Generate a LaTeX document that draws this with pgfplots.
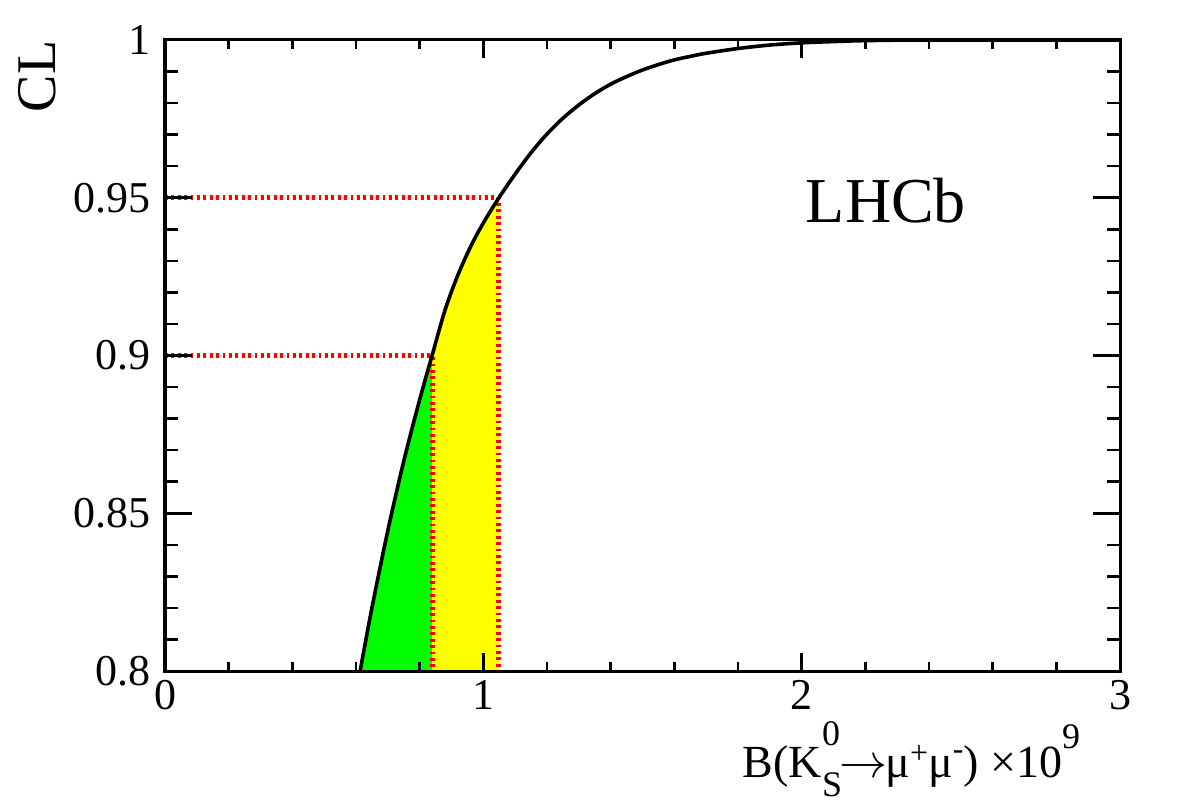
\documentclass[border=0pt]{standalone}
\usepackage{pgfplots}
\pgfplotsset{compat=1.18}
\usepackage{fontspec}
\setmainfont{Liberation Serif}
\begin{document}
\begin{tikzpicture}
\pgfplotsset{
  base/.style={
    name=ax,
    scale only axis, width=238.75pt, height=157.75pt,
    xmin=0, xmax=3, ymin=0.8, ymax=1,
    tick align=inside,
    axis line style={line width=0.75pt, black},
    tick style={line width=0.65pt, black},
    /pgf/number format/assume math mode=true,
    tick label style={font=\fontsize{11}{13}\selectfont},
  }
}
\begin{axis}[base, axis on top,
  xtick={0,1,2,3}, xticklabels={0,1,2,3},
  minor x tick num=4,
  major tick length=4.5pt, minor tick length=2.25pt,
  ytick=\empty,
  xticklabel style={yshift=1.2pt},
]
% green band (90% CL)
\addplot[draw=none, fill={rgb,255:red,0;green,255;blue,0}] coordinates {
(0.613,0.8000) (0.650,0.8200) (0.700,0.8445) (0.750,0.8665) (0.800,0.8860) (0.839,0.9000) (0.839,0.8000)
} -- cycle;
% yellow band (95% CL)
\addplot[draw=none, fill={rgb,255:red,255;green,255;blue,0}] coordinates {
(0.839,0.9000) (0.880,0.9145) (0.920,0.9255) (0.960,0.9345) (1.000,0.9420) (1.049,0.9500) (1.049,0.8000) (0.839,0.8000)
} -- cycle;
% red dotted guide lines
\addplot[red, line width=1.25pt, dash pattern=on 0.7pt off 0.9pt] coordinates {(0,0.95) (1.049,0.95) (1.049,0.8)};
\addplot[red, line width=1.25pt, dash pattern=on 0.7pt off 0.9pt] coordinates {(0,0.90) (0.839,0.90) (0.839,0.8)};
% CL curve
\addplot[black, line width=0.9pt, smooth, tension=0.5] coordinates {
(0.613,0.8000) (0.650,0.8200) (0.700,0.8445) (0.750,0.8665) (0.800,0.8860) (0.839,0.9000)
(0.880,0.9145) (0.920,0.9255) (0.960,0.9345) (1.000,0.9420) (1.049,0.9500) (1.100,0.9575)
(1.150,0.9643) (1.200,0.9702) (1.250,0.9752) (1.300,0.9794) (1.350,0.9830) (1.400,0.9860)
(1.450,0.9884) (1.500,0.9905) (1.550,0.9922) (1.600,0.9937) (1.650,0.9948) (1.700,0.9958)
(1.800,0.9973) (1.900,0.9984) (2.000,0.9991) (2.100,0.9995) (2.200,0.9998) (2.400,1.0000) (3.000,1.0000)
};
\node[anchor=base west, font=\fontsize{16}{18}\selectfont, inner sep=0pt] at (axis cs:2.011,0.9423) {LHCb};
\end{axis}
\begin{axis}[base,
  xtick=\empty,
  ytick={0.8,0.85,0.9,0.95,1}, yticklabels={0.8,0.85,0.9,0.95,1},
  minor y tick num=4,
  major tick length=6.75pt, minor tick length=3.25pt,
]
\end{axis}
\node[xshift=-27.5pt, rotate=90, anchor=base east, inner sep=0pt, font=\fontsize{14}{16}\selectfont] at (ax.north west) {CL};
\node[anchor=base east, inner sep=0pt, font=\fontsize{11.5}{13}\selectfont] at ([xshift=229pt, yshift=-26.5pt]ax.south west)
 {B(K\makebox[0pt][l]{\raisebox{0.68em}{\fontsize{9}{9}\selectfont 0}}\raisebox{-0.42em}{\fontsize{9}{9}\selectfont S}\kern-0.05em$\rightarrow$\kern-0.05em μ\raisebox{0.3em}{\fontsize{8}{8}\selectfont +}μ\raisebox{0.38em}{\fontsize{8}{8}\selectfont -}) ×10\raisebox{0.62em}{\fontsize{9}{9}\selectfont 9}};
\pgfresetboundingbox
\path ([xshift=-41.25pt, yshift=-32.25pt]ax.south west) rectangle ([xshift=15.5pt, yshift=10pt]ax.north east);
\end{tikzpicture}
\end{document}
